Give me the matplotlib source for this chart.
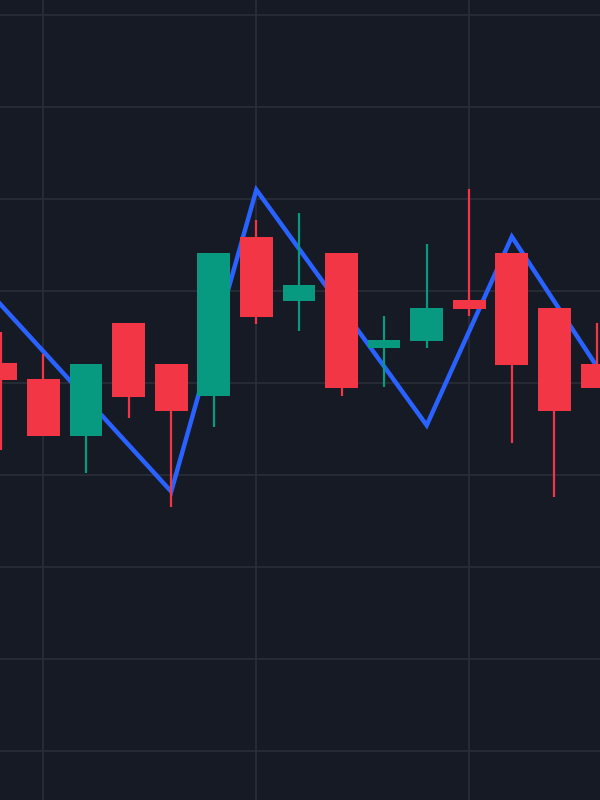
import numpy as np
import matplotlib.pyplot as plt

# candle data (index, open, high, low, close)
idx = np.arange(15)
opens = [102.2, 100.4, 94.2, 106.5, 102.1, 98.6, 115.9, 108.9, 114.1, 103.8, 104.6, 109.0, 114.1, 108.2, 102.1]
highs = [105.5, 103.2, 102.1, 106.5, 102.1, 114.1, 117.7, 118.5, 114.1, 107.3, 115.1, 121.1, 114.1, 108.2, 106.5]
lows = [92.7, 94.2, 90.2, 96.2, 86.5, 95.2, 106.4, 105.7, 98.6, 99.6, 103.8, 107.3, 93.5, 87.6, 99.5]
closes = [100.3, 94.2, 102.1, 98.5, 96.9, 114.1, 107.2, 110.7, 99.5, 104.7, 108.2, 108.0, 102.0, 96.9, 99.5]

# zigzag pivots
zz_idx = [-1, 0, 4, 6, 10, 12, 15]
zz_val = [113.6, 108.5, 88.2, 121.0, 95.4, 115.9, 94.7]

BG = '#161a25'
GRID = '#2a2e39'
UP = '#089981'
DOWN = '#f23645'
LINE = '#2962ff'

fig = plt.figure(figsize=(6, 8), dpi=100, facecolor=BG)
ax = fig.add_axes([0, 0, 1, 1])
ax.set_facecolor(BG)

o = np.array(opens)
c = np.array(closes)
colors = [UP if cc >= oo else DOWN for oo, cc in zip(o, c)]

ax.plot(zz_idx, zz_val, color=LINE, lw=3.2, zorder=2, solid_joinstyle='miter')
ax.vlines(idx, lows, highs, colors=colors, lw=1.6, zorder=3)
ax.bar(idx, np.abs(c - o), bottom=np.minimum(o, c), width=0.77,
       color=colors, zorder=4)

ax.set_xlim(-0.02, 14.07)
ax.set_ylim(54.67, 141.63)
ax.set_xticks([1, 6, 11])
ax.set_yticks(np.arange(60, 141, 10))
ax.grid(True, color=GRID, lw=1.2, zorder=0)
ax.set_axisbelow(True)
ax.tick_params(length=0, labelbottom=False, labelleft=False)
for s in ax.spines.values():
    s.set_visible(False)

plt.savefig('out.png', dpi=100, facecolor=BG)
plt.close()
